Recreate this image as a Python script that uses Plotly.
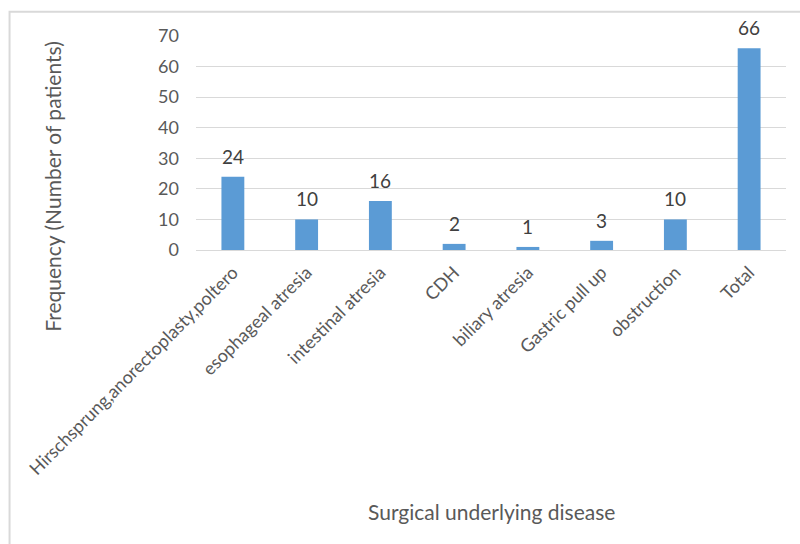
import plotly.graph_objects as go

categories = [
    "Hirschsprung,anorectoplasty,poltero",
    "esophageal atresia",
    "intestinal atresia",
    "CDH",
    "biliary atresia",
    "Gastric pull up",
    "obstruction",
    "Total",
]
patients = [24, 10, 16, 2, 1, 3, 10, 66]
y_ticks = [0, 10, 20, 30, 40, 50, 60, 70]

FONT = "Lato, 'Open Sans', sans-serif"
GREY = "#595959"

fig = go.Figure(
    go.Bar(
        x=categories,
        y=patients,
        marker=dict(color="#5b9bd5", line=dict(width=0)),
        hoverinfo="x+y",
    )
)

# value labels sitting a little above each bar
for c, v in zip(categories, patients):
    fig.add_annotation(
        x=c, y=v, text=str(v), showarrow=False,
        yanchor="bottom", yshift=7,
        font=dict(family=FONT, size=19, color="#404040"),
    )

# axis titles
fig.add_annotation(
    xref="paper", yref="paper", x=-0.2424, y=0.30,
    text="Frequency (Number of patients)", textangle=-90,
    showarrow=False, xanchor="center", yanchor="middle",
    font=dict(family=FONT, size=21, color=GREY),
)
fig.add_annotation(
    xref="paper", yref="paper", x=0.5, y=-1.224,
    text="Surgical underlying disease",
    showarrow=False, xanchor="center", yanchor="middle",
    font=dict(family=FONT, size=21, color=GREY),
)

# outer chart frame
fig.add_shape(
    type="rect", xref="paper", yref="paper",
    x0=-0.316, x1=1.2, y0=-1.8, y1=1.113,
    line=dict(color="#d9d9d9", width=2), fillcolor="rgba(0,0,0,0)",
    layer="below",
)

fig.update_layout(
    width=800,
    height=544,
    margin=dict(l=196, r=14, t=36, b=294),
    paper_bgcolor="white",
    plot_bgcolor="white",
    bargap=0.69,
    showlegend=False,
    font=dict(family=FONT, color=GREY),
    xaxis=dict(
        tickangle=-45,
        tickfont=dict(family=FONT, size=18, color=GREY),
        showline=True, linecolor="#d9d9d9", linewidth=1,
        ticks="", showgrid=False,
        ticklabelstandoff=4,
    ),
    yaxis=dict(
        range=[0, 70],
        tickvals=y_ticks,
        tickfont=dict(family=FONT, size=18, color=GREY),
        showgrid=True, gridcolor="#d9d9d9", gridwidth=1,
        zeroline=True, zerolinecolor="#d9d9d9", zerolinewidth=1,
        ticks="", ticklabelstandoff=16,
    ),
)

fig.write_html("out.html")
